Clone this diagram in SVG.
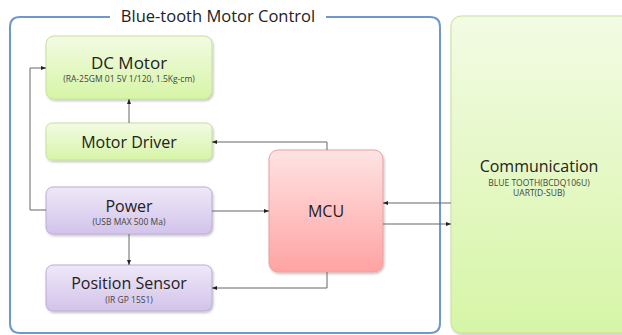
<svg xmlns="http://www.w3.org/2000/svg" width="622" height="335" viewBox="0 0 622 335">
<defs>
<linearGradient id="gGreen" x1="0" y1="0" x2="0" y2="1"><stop offset="0" stop-color="#f3fbe4"/><stop offset="1" stop-color="#d6f5a6"/></linearGradient>
<linearGradient id="gPurple" x1="0" y1="0" x2="0" y2="1"><stop offset="0" stop-color="#efe8f8"/><stop offset="1" stop-color="#d2c3ea"/></linearGradient>
<linearGradient id="gRed" x1="0" y1="0" x2="0" y2="1"><stop offset="0" stop-color="#ffe3e3"/><stop offset="1" stop-color="#ffa3a3"/></linearGradient>
<filter id="sh" x="-10%" y="-10%" width="130%" height="130%"><feDropShadow dx="1" dy="1.5" stdDeviation="1.2" flood-color="#000" flood-opacity="0.25"/></filter>
<marker id="arr" viewBox="0 0 10 10" refX="10" refY="5" markerWidth="5" markerHeight="5" orient="auto"><path d="M0,1 L10,5 L0,9 z" fill="#222"/></marker>
</defs>
<style>
.green{fill:url(#gGreen);stroke:#c4e29a;stroke-width:1;filter:url(#sh)}
.purple{fill:url(#gPurple);stroke:#bcaad8;stroke-width:1;filter:url(#sh)}
.red{fill:url(#gRed);stroke:#e9a0a0;stroke-width:1;filter:url(#sh)}
.t{font-family:"Open Sans","Noto Sans","Liberation Sans",sans-serif;fill:#222;text-anchor:middle}
.big{font-size:16px}
.sm{font-size:8.5px;fill:#444}
.conn{fill:none;stroke:#666;stroke-width:1;marker-end:url(#arr)}
</style>
<rect width="622" height="335" fill="#fff"/>
<g id="frame">
<path d="M110,17 H20 Q10,17 10,27 V323 Q10,333 20,333 H430 Q440,333 440,323 V27 Q440,17 430,17 H326" fill="none" stroke="#6f98cc" stroke-width="2"/>
<text class="t" x="218" y="22" font-size="16.5">Blue-tooth Motor Control</text>
</g>
<g id="comm">
<rect class="green" x="451" y="16" width="190" height="317" rx="10"/>
<text class="t big" x="539" y="172">Communication</text>
<text class="t sm" x="539" y="186">BLUE TOOTH(BCDQ106U)</text>
<text class="t sm" x="539" y="196">UART(D-SUB)</text>
</g>
<g id="dcmotor">
<rect class="green" x="46" y="36" width="166" height="63" rx="8"/>
<text class="t" x="129" y="69" font-size="17">DC Motor</text>
<text class="t sm" x="129" y="82">(RA-25GM 01 5V 1/120, 1.5Kg-cm)</text>
</g>
<g id="motordriver">
<rect class="green" x="46" y="123" width="166" height="37" rx="6"/>
<text class="t big" x="129" y="148">Motor Driver</text>
</g>
<g id="power">
<rect class="purple" x="46" y="187" width="166" height="47" rx="7"/>
<text class="t big" x="129" y="212">Power</text>
<text class="t sm" x="129" y="225">(USB MAX  500 Ma)</text>
</g>
<g id="position">
<rect class="purple" x="46" y="265" width="166" height="46" rx="7"/>
<text class="t big" x="129" y="289">Position Sensor</text>
<text class="t sm" x="129" y="303">(IR GP 15S1)</text>
</g>
<g id="mcu">
<rect class="red" x="269" y="150" width="114" height="122" rx="9"/>
<text class="t big" x="326" y="217">MCU</text>
</g>
<g id="connectors">
<path class="conn" d="M46,210 H30 V68 H46"/>
<path class="conn" d="M129,123 V99"/>
<path class="conn" d="M327,150 V142 H212"/>
<path class="conn" d="M212,211 H269"/>
<path class="conn" d="M129,234 V265"/>
<path class="conn" d="M327,272 V288 H212"/>
<path class="conn" d="M451,203 H383"/>
<path class="conn" d="M383,224 H451"/>
</g>
</svg>
